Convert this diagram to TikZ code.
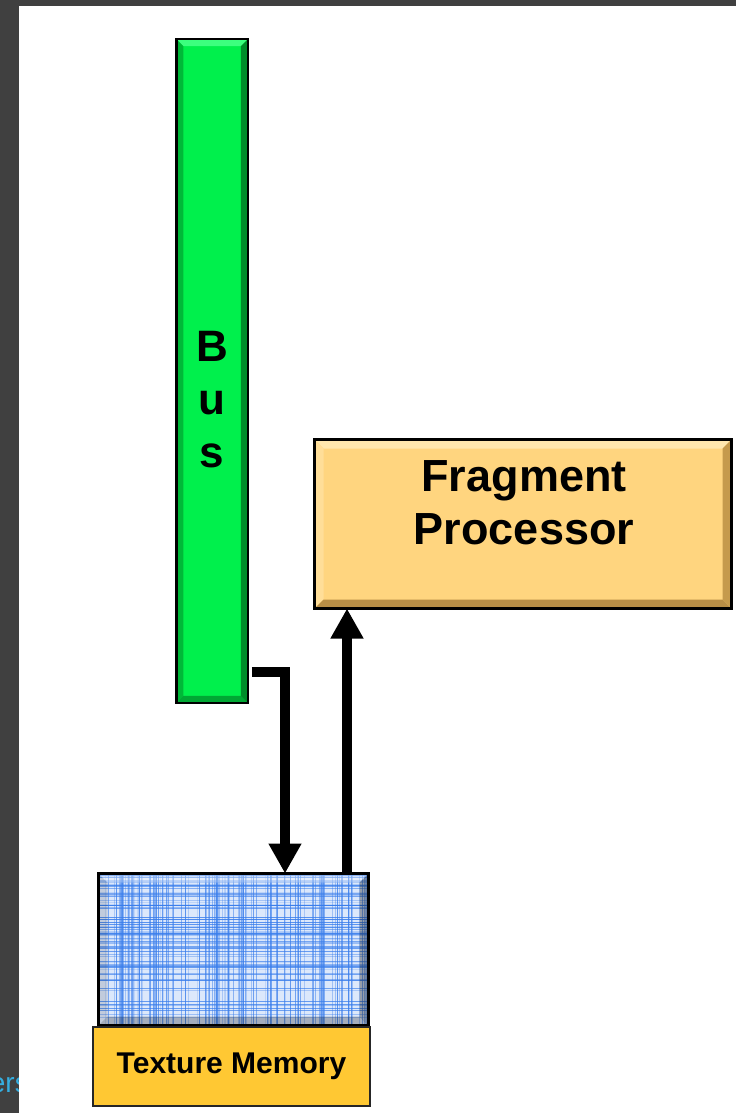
\documentclass[tikz,border=0pt]{standalone}
\usepackage{fontspec}
\setmainfont{Liberation Sans}
\usetikzlibrary{arrows.meta,calc}

\definecolor{framegray}{HTML}{404040}
\definecolor{linkcyan}{HTML}{35AEE0}
\definecolor{busface}{HTML}{00F04C}
\definecolor{bustop}{HTML}{3CFF7E}
\definecolor{busleft}{HTML}{00B838}
\definecolor{busright}{HTML}{008C2A}
\definecolor{busbottom}{HTML}{00A834}
\definecolor{fpface}{HTML}{FFD57F}
\definecolor{fptop}{HTML}{FFE7AE}
\definecolor{fpleft}{HTML}{FFDE98}
\definecolor{fpright}{HTML}{C59A4C}
\definecolor{fpbottom}{HTML}{B88E46}
\definecolor{gridbase}{HTML}{DCE8FB}
\definecolor{gridblue}{HTML}{3A7EEC}
\definecolor{labelgold}{HTML}{FFC833}

% four bevel bands inside the current path picture
\newcommand\bevelfill[5]{%
  \path (path picture bounding box.north west) coordinate (bnw)
        (path picture bounding box.north east) coordinate (bne)
        (path picture bounding box.south east) coordinate (bse)
        (path picture bounding box.south west) coordinate (bsw);
  \fill[#2] (bnw) -- (bne) -- ($(bne)+(-#1,#1)$) -- ($(bnw)+(#1,#1)$) -- cycle;
  \fill[#3] (bnw) -- (bsw) -- ($(bsw)+(#1,-#1)$) -- ($(bnw)+(#1,#1)$) -- cycle;
  \fill[#4] (bsw) -- (bse) -- ($(bse)+(-#1,-#1)$) -- ($(bsw)+(#1,-#1)$) -- cycle;
  \fill[#5] (bne) -- (bse) -- ($(bse)+(-#1,-#1)$) -- ($(bne)+(-#1,#1)$) -- cycle;
}

\tikzset{
  box/.style={draw=black, rectangle, inner sep=0pt, outer sep=0pt},
  busbox/.style={box, line width=2.5pt, fill=busface,
    path picture={\bevelfill{7}{bustop}{busleft}{busbottom}{busright}}},
  fpbox/.style={box, line width=3pt, fill=fpface,
    path picture={\bevelfill{9}{fptop}{fpleft}{fpbottom}{fpright}}},
  gridbox/.style={box, line width=3pt, fill=gridbase,
    path picture={%
      \path (path picture bounding box.north west) coordinate (gnw);
      \pgfmathsetseed{42}%
      \foreach \i in {1,...,140}{%
        \pgfmathsetmacro\gx{rnd*280}%
        \pgfmathsetmacro\go{0.15+0.65*rnd}%
        \pgfmathsetmacro\gw{0.3+0.8*rnd}%
        \draw[gridblue, opacity=\go, line width=\gw pt]
          ($(gnw)+(\gx,0)$) -- ($(gnw)+(\gx,160)$);
      }%
      \foreach \i in {1,...,85}{%
        \pgfmathsetmacro\gy{rnd*160}%
        \pgfmathsetmacro\go{0.15+0.7*rnd}%
        \pgfmathsetmacro\gw{0.3+0.9*rnd}%
        \draw[gridblue, opacity=\go, line width=\gw pt]
          ($(gnw)+(0,\gy)$) -- ($(gnw)+(280,\gy)$);
      }%
      \bevelfill{9}{{white,opacity=.30}}{{black,opacity=.12}}{{black,opacity=.25}}{{black,opacity=.32}}}},
  labelbox/.style={box, draw=black!85, line width=2pt, fill=labelgold,
    font=\fontsize{30}{36}\selectfont\bfseries},
  bigtext/.style={align=center, inner sep=0pt},
  flow/.style={line width=10pt, line cap=butt, line join=miter,
    -{Triangle[width=31pt,length=30pt]}},
}

\begin{document}
\begin{tikzpicture}[x=1pt, y=-1pt]
  % page frame and the caption that runs off the left edge
  \useasboundingbox (0,0) rectangle (736,1113);
  \fill[framegray] (0,0) rectangle (736,1113);
  \node[text=linkcyan, font=\fontsize{28}{30}\selectfont, anchor=base east,
        inner sep=0pt] (edgecap) at (29,1092) {ers};
  \fill[white] (19,6) rectangle (736,1113);

  % blocks
  \node[busbox, minimum width=71.5pt, minimum height=663.5pt] (bus) at (212,371) {};
  \node[bigtext, font=\fontsize{44}{53}\selectfont\bfseries] (buslabel)
       at (212,399.5) {B\\u\\s};

  \node[fpbox, minimum width=417pt, minimum height=169pt] (fp) at (523,524) {};
  \node[bigtext, font=\fontsize{45}{53}\selectfont\bfseries] (fplabel)
       at (524,502.5) {Fragment\\Processor};

  \node[gridbox, minimum width=270pt, minimum height=152pt] (tex) at (233.5,949.5) {};
  \node[labelbox, minimum width=277pt, minimum height=79pt] (texlabel)
       at (231.5,1066.5) {Texture Memory};

  % data paths
  \coordinate (busout) at ($(bus.south east)+(4,-31)$);
  \draw[flow] (busout) -| ([xshift=51.5pt]tex.north);
  \draw[flow] ([xshift=113.5pt]tex.north) -- ([xshift=113.5pt]tex.north |- fp.south);
\end{tikzpicture}
\end{document}
